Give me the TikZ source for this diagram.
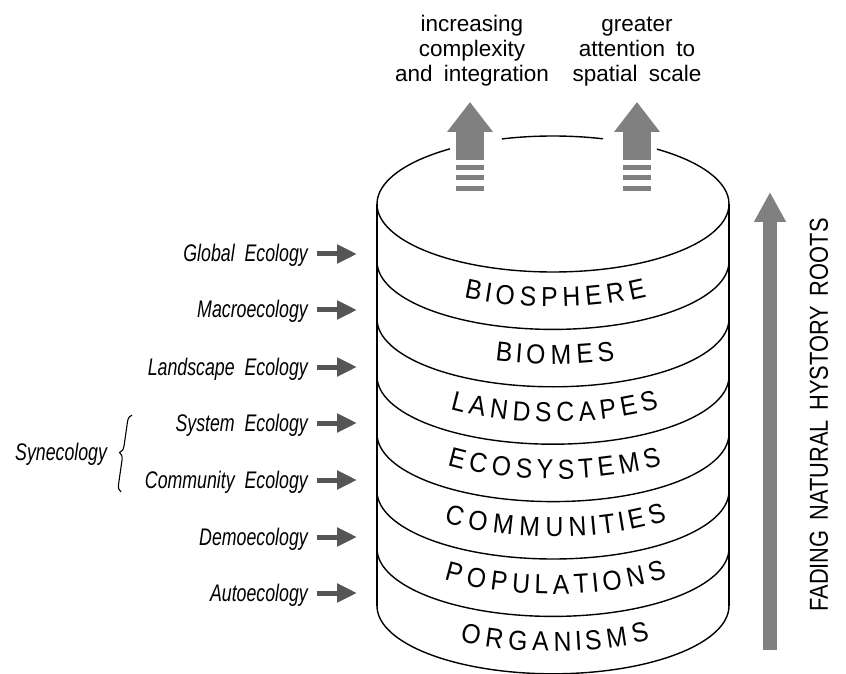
\documentclass[tikz,border=0pt]{standalone}
\usepackage{fontspec}
\setmainfont{Liberation Sans}
\newfontfamily\layerfont[FakeStretch=0.9]{Liberation Sans}
\newfontfamily\fieldfont[FakeStretch=0.74,WordSpace=2]{Liberation Sans}
\newfontfamily\headfont[WordSpace=1.8]{Liberation Sans}
\newfontfamily\axisfont[FakeStretch=0.84,WordSpace=1.6]{Liberation Sans}
\usetikzlibrary{arrows.meta,decorations.text,decorations.pathreplacing}
\definecolor{arrowgray}{HTML}{808080}
\definecolor{darkarrow}{HTML}{555555}

\begin{document}
\begin{tikzpicture}[x=1pt,y=1pt,
  rim/.style={line width=1.4pt, black},
  field/.style={font=\fieldfont\itshape\fontsize{24}{28}\selectfont, inner sep=0pt},
  headlabel/.style={font=\headfont\fontsize{22.5}{25}\selectfont, align=center, inner sep=0pt},
  pointer/.style={darkarrow, line width=5pt, -{Triangle[length=20pt,width=18pt]}},
  bigup/.style={arrowgray, line width=28pt, -{Triangle[length=30pt,width=44pt]}},
]
\useasboundingbox (0,0) rectangle (846,673);

% cylinder geometry
\def\cx{553}
\def\rx{176}
\def\ry{68}
\def\ytop{469}
\def\dy{57.4}

% side walls
\draw[rim] (\cx-\rx,\ytop) -- (\cx-\rx,\ytop-7*\dy);
\draw[rim] (\cx+\rx,\ytop) -- (\cx+\rx,\ytop-7*\dy);

% front rims of the lid and of every layer
\foreach \k in {0,...,7}{
  \draw[rim] (\cx+\rx,\ytop-\k*\dy) arc[start angle=0,end angle=-180,x radius=\rx,y radius=\ry];
}

% back rim of the lid, left open where the arrows pass
\draw[rim] (\cx+\rx,\ytop) arc[start angle=0,end angle=53.8,x radius=\rx,y radius=\ry];
\draw[rim] ({\cx+\rx*cos(73.5)},{\ytop+\ry*sin(73.5)}) arc[start angle=73.5,end angle=106.9,x radius=\rx,y radius=\ry];
\draw[rim] ({\cx+\rx*cos(125.8)},{\ytop+\ry*sin(125.8)}) arc[start angle=125.8,end angle=180,x radius=\rx,y radius=\ry];

% layer names written along the curved bands
\foreach \txt/\a/\b/\k in {BIOSPHERE/239.6/302.3/0, BIOMES/250.8/290.6/1, LANDSCAPES/234.2/307.0/2,
    ECOSYSTEMS/233.0/308.3/3, COMMUNITIES/231.7/310.4/4, POPULATIONS/231.7/310.4/5, ORGANISMS/238.1/303.4/6}{
  \pgfmathsetmacro\cy{434-57.4*\k}
  \path[font=\layerfont\fontsize{27.5}{30}\selectfont, decorate,
        decoration={text effects along path, text/.expanded=\txt,
          text effects/.cd, text along path, fit text to path,
          characters={anchor=base, font=\layerfont\fontsize{27.5}{30}\selectfont}}]
    ({\cx+\rx*cos(\a)},{\cy+\ry*sin(\a)}) arc[start angle=\a,end angle=\b,x radius=\rx,y radius=\ry];
}

% arrows rising out of the lid
\foreach \ax/\nm in {470/riseA, 637/riseB}{
  \coordinate (\nm-foot) at (\ax,513);
  \coordinate (\nm-tip) at (\ax,571);
  \draw[bigup] (\nm-foot) -- (\nm-tip);
  \fill[arrowgray] (\ax-14,503) rectangle (\ax+14,508);
  \fill[arrowgray] (\ax-14,493) rectangle (\ax+14,498);
  \fill[arrowgray] (\ax-14,482) rectangle (\ax+14,487);
}
\node[headlabel, anchor=base] (complexity) at (472,591) {increasing\\complexity\\and integration};
\node[headlabel, anchor=base] (spatial) at (637,591) {greater\\attention to\\spatial scale};

% fields of ecology pointing at the layers
\foreach \lbl/\yy/\nm in {Global Ecology/419/glob, Macroecology/363/macro, Landscape Ecology/306/land,
    System Ecology/250/sys, Community Ecology/193/comm, Demoecology/136/demo, Autoecology/80/auto}{
  \node[field, anchor=base east] (\nm) at (308,\yy-8) {\lbl};
  \coordinate (\nm-tip) at (357,\yy);
  \draw[pointer] ([xshift=9pt]\nm.east |- \nm-tip) -- (\nm-tip);
}
\node[field, anchor=base west] (syn) at (15,213) {Synecology};
\draw[decorate, decoration={brace, amplitude=7pt}, line width=1.1pt] (121,181) -- (132,258);

% historical axis
\coordinate (roots-foot) at (770,23);
\coordinate (roots-tip) at (770,481);
\draw[arrowgray, line width=14pt, -{Triangle[length=30pt,width=30pt]}] (roots-foot) -- (roots-tip);
\node[font=\axisfont\fontsize{26}{30}\selectfont, rotate=90, inner sep=0pt] (roots) at (819,258) {FADING NATURAL HYSTORY ROOTS};
\end{tikzpicture}
\end{document}
